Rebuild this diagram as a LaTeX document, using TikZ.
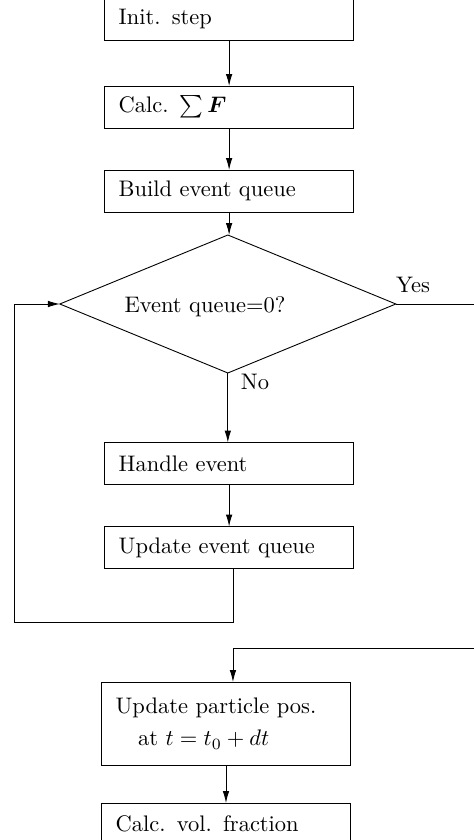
\documentclass[tikz,border=0pt]{standalone}
\usepackage{amsmath}
\usetikzlibrary{shapes.geometric,arrows.meta}

\begin{document}
\begin{tikzpicture}[box/.style={draw, minimum width=3.89cm, minimum height=0.656cm, text width=3.45cm, align=left, outer sep=0pt},
  decision/.style={draw, diamond, minimum width=5.25cm, minimum height=2.156cm, inner sep=0pt, outer sep=0pt},
  flow/.style={-{Latex[length=5.3pt,width=2.9pt]}}]
\useasboundingbox (0,0) rectangle (7.406,13.125);
\clip (0,0) rectangle (7.406,13.125);

% main loop of one time step
\node[box] (init) at (3.58,12.828) {Init. step};
\node[box] (force) at (3.58,11.453) {Calc. $\sum \boldsymbol{F}$};
\node[box] (build) at (3.58,10.141) {Build event queue};
\node[decision] (queue) at (3.56,8.375) {};
\node (queuetext) at (3.203,8.328) {Event queue=0?};
\node (yes) at (6.453,8.672) {Yes};
\node (no) at (3.984,7.156) {No};
\node[box] (handle) at (3.58,5.883) {Handle event};
\node[box] (update) at (3.58,4.570) {Update event queue};

% after the queue is empty
\node[box, minimum height=1.297cm] (move) at (3.531,1.820) {Update particle pos.\\[2.5pt]\hspace*{1em}at $t=t_0+dt$};
\node[box] (volfrac) at (3.531,0.25) {Calc. vol. fraction};

\coordinate (yesend) at (7.6,8.375);
\coordinate (back) at (7.6,3.0);
\coordinate (turn) at (3.64,3.0);
\coordinate (loop) at (0.219,3.406);

\draw[flow] (init) -- (force);
\draw[flow] (force) -- (build);
\draw[flow] (build) -- (build |- queue.north);
\draw[flow] (queue) -- (queue |- handle.north);
\draw[flow] (handle) -- (update);
\draw[flow] ([xshift=0.06cm]update.south) |- (loop) |- (queue.west);
\draw (queue.east) -- (yesend);
\draw[flow] (back) -- (turn) -- (turn |- move.north);
\draw[flow] (move) -- (move |- volfrac.north);
\end{tikzpicture}
\end{document}
